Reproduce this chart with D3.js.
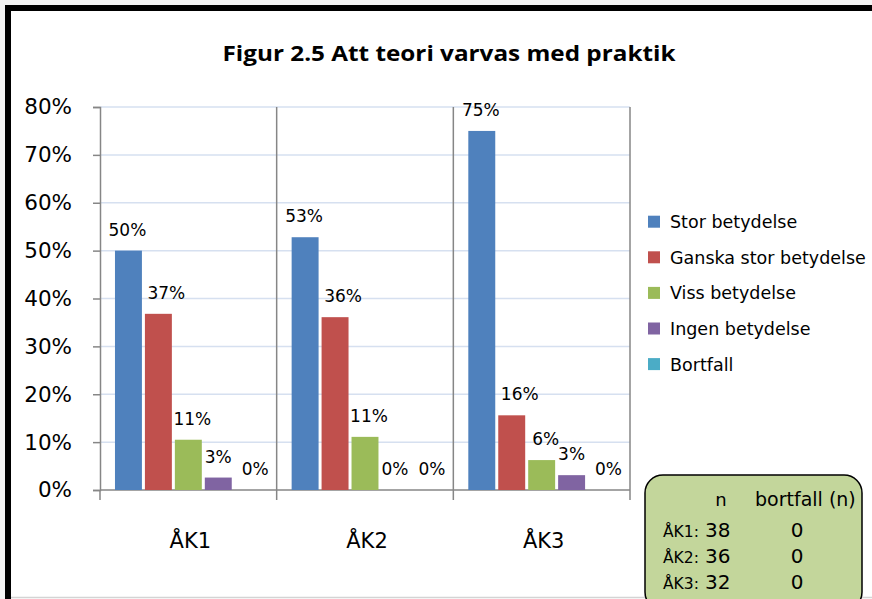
<!DOCTYPE html>
<html>
<head>
<meta charset="utf-8">
<script src="https://cdn.jsdelivr.net/npm/d3@7"></script>
<style>
  html, body { margin: 0; padding: 0; background: #fff; }
  svg { display: block; }
  text { font-family: "DejaVu Sans", sans-serif; fill: #000; }
</style>
</head>
<body>
<svg id="chart" width="872" height="599"></svg>
<script>
// data
const categories = ["ÅK1", "ÅK2", "ÅK3"];
const seriesNames = ["Stor betydelse", "Ganska stor betydelse", "Viss betydelse", "Ingen betydelse", "Bortfall"];
const storValues = [0.500, 0.528, 0.750];
const ganskaValues = [0.368, 0.361, 0.156];
const vissValues = [0.105, 0.111, 0.0625];
const ingenValues = [0.026, 0.0, 0.031];
const bortfallValues = [0.0, 0.0, 0.0];
const yTicks = [0, 0.1, 0.2, 0.3, 0.4, 0.5, 0.6, 0.7, 0.8];
const nValues = [38, 36, 32];
const dropoutValues = [0, 0, 0];

const colors = ["#4f81bd", "#c0504d", "#9bbb59", "#8064a2", "#4bacc6"];
const labelDx = [-1, 8, 4, 0, 7];

const allSeries = [storValues, ganskaValues, vissValues, ingenValues, bortfallValues];
const rows = [];
categories.forEach((c, ci) => {
  seriesNames.forEach((s, si) => {
    rows.push({ cat: c, series: s, si: si, value: allSeries[si][ci] });
  });
});

const svg = d3.select("#chart");

// outer frame
svg.append("rect").attr("x", 0).attr("y", 0).attr("width", 872).attr("height", 5).attr("fill", "#f4f4f4");
svg.append("rect").attr("x", 0).attr("y", 0).attr("width", 5).attr("height", 599).attr("fill", "#f4f4f4");
svg.append("rect").attr("x", 5).attr("y", 5).attr("width", 867).attr("height", 6).attr("fill", "#000");
svg.append("rect").attr("x", 5).attr("y", 5).attr("width", 6).attr("height", 594).attr("fill", "#000");
svg.append("line").attr("x1", 11).attr("x2", 872).attr("y1", 597.5).attr("y2", 597.5)
  .style("stroke", "#d4d4d4").style("stroke-width", 1.5);

// title
svg.append("text")
  .attr("x", 449).attr("y", 61)
  .attr("text-anchor", "middle")
  .attr("textLength", 453)
  .attr("lengthAdjust", "spacingAndGlyphs")
  .style("font-family", "'Open Sans', sans-serif")
  .style("font-weight", "bold")
  .style("font-size", "22px")
  .text("Figur 2.5 Att teori varvas med praktik");

const plotLeft = 100, plotRight = 630, plotTop = 107, plotBottom = 490;

const y = d3.scaleLinear().domain([0, 0.8]).range([plotBottom, plotTop]);
const x0 = d3.scaleBand().domain(categories).range([plotLeft, plotRight]).padding(0);
const x1 = d3.scaleBand().domain(seriesNames).range([0, x0.bandwidth()])
  .paddingInner(0.1).paddingOuter(0.5);

// gridlines
svg.append("g")
  .selectAll("line")
  .data(yTicks.filter((t) => t > 0))
  .enter()
  .append("line")
  .attr("x1", plotLeft).attr("x2", plotRight)
  .attr("y1", (d) => y(d)).attr("y2", (d) => y(d))
  .style("stroke", "#d6e0f0")
  .style("stroke-width", 1.5);

// category separators
svg.append("g")
  .selectAll("line")
  .data(categories)
  .enter()
  .append("line")
  .attr("x1", (d) => x0(d) + x0.bandwidth())
  .attr("x2", (d) => x0(d) + x0.bandwidth())
  .attr("y1", plotTop).attr("y2", plotBottom + 10)
  .style("stroke", "#868686")
  .style("stroke-width", 1.5);

// y axis
const yAxis = svg.append("g")
  .attr("transform", `translate(${plotLeft},0)`)
  .call(d3.axisLeft(y).tickValues(yTicks).tickSize(7).tickPadding(21)
    .tickFormat(d3.format(".0%")));
yAxis.select(".domain").style("stroke", "#868686").style("stroke-width", 1.5);
yAxis.selectAll(".tick line").style("stroke", "#868686").style("stroke-width", 1.5);
yAxis.selectAll(".tick text")
  .style("font-family", "'DejaVu Sans', sans-serif")
  .style("font-size", "21.5px")
  .attr("fill", "#000");

// x axis baseline and ticks
svg.append("line")
  .attr("x1", plotLeft).attr("x2", plotRight).attr("y1", plotBottom).attr("y2", plotBottom)
  .style("stroke", "#868686").style("stroke-width", 1.5);
svg.append("line")
  .attr("x1", plotLeft).attr("x2", plotLeft).attr("y1", plotBottom).attr("y2", plotBottom + 10)
  .style("stroke", "#868686").style("stroke-width", 1.5);

svg.append("g")
  .selectAll("text")
  .data(categories)
  .enter()
  .append("text")
  .attr("x", (d) => x0(d) + x0.bandwidth() / 2 + 2)
  .attr("y", 548)
  .attr("text-anchor", "middle")
  .style("font-size", "21px")
  .text((d) => d);

// bars
svg.append("g")
  .selectAll("rect")
  .data(rows)
  .enter()
  .append("rect")
  .attr("x", (d) => x0(d.cat) + x1(d.series))
  .attr("y", (d) => y(d.value))
  .attr("width", x1.bandwidth())
  .attr("height", (d) => plotBottom - y(d.value))
  .attr("fill", (d) => colors[d.si]);

// data labels
svg.append("g")
  .selectAll("text")
  .data(rows)
  .enter()
  .append("text")
  .attr("x", (d) => x0(d.cat) + x1(d.series) + x1.bandwidth() / 2 + labelDx[d.si])
  .attr("y", (d) => y(d.value) - 15)
  .attr("text-anchor", "middle")
  .style("font-size", "17px")
  .text((d) => Math.round(d.value * 100) + "%");

// legend
const legend = svg.append("g")
  .selectAll("g")
  .data(seriesNames)
  .enter()
  .append("g")
  .attr("transform", (d, i) => `translate(648,${221.7 + i * 35.6})`);
legend.append("rect")
  .attr("x", 0).attr("y", -6).attr("width", 12).attr("height", 12)
  .attr("fill", (d, i) => colors[i]);
legend.append("text")
  .attr("x", 22).attr("y", 6.5)
  .style("font-size", "17.5px")
  .text((d) => d);

// n box
svg.append("rect")
  .attr("x", 645).attr("y", 475).attr("width", 217).attr("height", 135)
  .attr("rx", 18)
  .attr("fill", "#c3d69b")
  .style("stroke", "#000").style("stroke-width", 1.5);
svg.append("text").attr("x", 721).attr("y", 506).attr("text-anchor", "middle")
  .style("font-size", "18px").text("n");
svg.append("text").attr("x", 755).attr("y", 506)
  .style("font-size", "19px").text("bortfall (n)");

const boxRows = svg.append("g")
  .selectAll("g")
  .data(categories)
  .enter()
  .append("g")
  .attr("transform", (d, i) => `translate(0,${536.7 + i * 26.3})`);
boxRows.append("text").attr("x", 663).style("font-size", "15.5px").text((d) => d + ":");
boxRows.append("text").attr("x", 705).style("font-size", "20px").text((d, i) => nValues[i]);
boxRows.append("text").attr("x", 797).attr("text-anchor", "middle")
  .style("font-size", "20px").text((d, i) => dropoutValues[i]);
</script>
</body>
</html>
